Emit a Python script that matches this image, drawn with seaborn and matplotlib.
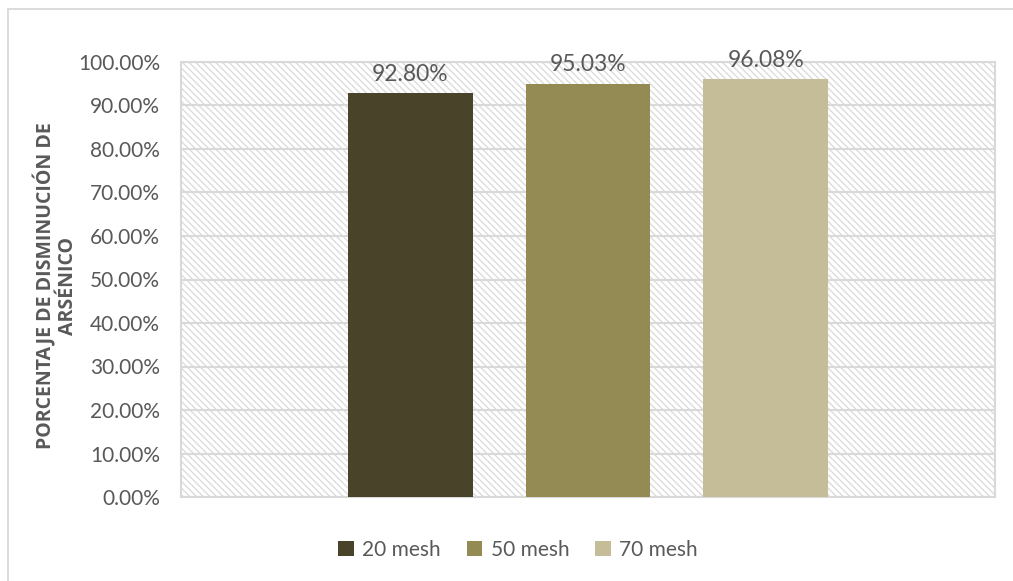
import matplotlib
matplotlib.use("Agg")
import matplotlib.pyplot as plt
from matplotlib.patches import Rectangle
from matplotlib.ticker import FuncFormatter, MultipleLocator
import pandas as pd
import seaborn as sns

# Arsenic reduction by particle size
sizes = ["20 mesh", "50 mesh", "70 mesh"]
reduction = [92.80, 95.03, 96.08]
bar_colors = ["#494429", "#948A54", "#C4BD97"]
y_label = "PORCENTAJE DE DISMINUCIÓN DE\nARSÉNICO"

df = pd.DataFrame({"grupo": [""] * len(sizes), "malla": sizes, "valor": reduction})

sns.set_theme(style="white")
plt.rcParams["font.family"] = ["Lato", "DejaVu Sans"]
plt.rcParams["hatch.linewidth"] = 1.0
plt.rcParams["hatch.color"] = "#DCDCDC"
text_color = "#595959"
grid_color = "#D9D9D9"

fig = plt.figure(figsize=(10.13, 5.81), dpi=100)
W, H = 1013, 581
ax = fig.add_axes([181 / W, 1 - 497 / H, (995 - 181) / W, (497 - 62) / H])

# outer chart border
fig.patches.append(Rectangle((8 / W, 1 - 9 / H - 1), 2, 1, transform=fig.transFigure,
                             fill=False, edgecolor=grid_color, linewidth=1.3, zorder=0))

sns.barplot(data=df, x="grupo", y="valor", hue="malla", palette=bar_colors,
            width=0.8, gap=0.298, saturation=1, ax=ax, legend=True, zorder=3,
            edgecolor="none", errorbar=None)

ax.set_xlim(-0.61, 0.61)
ax.set_ylim(0, 100)

# hatched plot background
ax.add_patch(Rectangle((0, 0), 1, 1, transform=ax.transAxes, facecolor="white",
                       edgecolor="#DCDCDC", hatch="\\\\\\\\\\", linewidth=0, zorder=0))

ax.yaxis.set_major_locator(MultipleLocator(10))
ax.yaxis.set_major_formatter(FuncFormatter(lambda v, p: f"{v:.2f}%"))
ax.grid(axis="y", color=grid_color, linewidth=1.5, zorder=1)
ax.set_axisbelow(True)
for s in ax.spines.values():
    s.set_color(grid_color)
    s.set_linewidth(1.5)
ax.tick_params(axis="y", length=0, labelsize=15, labelcolor=text_color, pad=15)
ax.set_xticks([])
ax.set_xlabel("")
ax.set_ylabel(y_label, fontsize=14, fontweight="bold", color=text_color,
              family=["Open Sans", "DejaVu Sans"], linespacing=1.08)
ax.yaxis.set_label_coords(-0.127, 0.485)

for cont in ax.containers:
    ax.bar_label(cont, labels=[f"{v:.2f}%" for v in cont.datavalues],
                 padding=6, fontsize=16.5, color=text_color)

leg = ax.legend(loc="center", bbox_to_anchor=(518 / W, 1 - 550 / H),
                bbox_transform=fig.transFigure, ncol=3, frameon=False,
                fontsize=15, handlelength=0.75, handleheight=0.75,
                handletextpad=0.4, columnspacing=1.25)
for t in leg.get_texts():
    t.set_color(text_color)

fig.savefig("out.png", dpi=100)
